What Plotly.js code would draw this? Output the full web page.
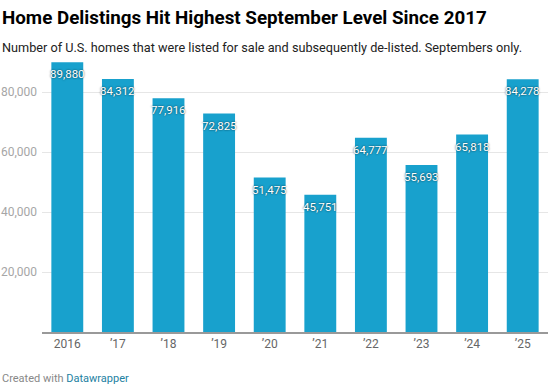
<!DOCTYPE html>
<html><head><meta charset="utf-8">
<script src="https://cdn.plot.ly/plotly-3.0.1.min.js"></script>
<style>html,body{margin:0;padding:0;background:#fff;}#chart{width:555px;height:392px;}</style>
</head><body><div id="chart"></div>
<script>
const years = ["2016","’17","’18","’19","’20","’21","’22","’23","’24","’25"];
const delistings = [89880, 84312, 77916, 72825, 51475, 45751, 64777, 55693, 65818, 84278];
const yTicks = [20000, 40000, 60000, 80000];
const yTickLabels = ["20,000", "40,000", "60,000", "80,000"];

const trace = {
  type: 'bar',
  x: years,
  y: delistings,
  marker: {color: '#18a1cd'},
  hoverinfo: 'none'
};

const valueLabels = years.map((yr, i) => ({
  text: delistings[i].toLocaleString('en-US'),
  x: i, y: delistings[i], xref: 'x', yref: 'y',
  xanchor: 'center', yanchor: 'top', yshift: -3, showarrow: false,
  font: {family: 'Roboto, sans-serif', size: 11.5, color: '#ffffff', shadow: '0 0 2px rgba(0,0,0,0.75)'}
}));

const layout = {
  width: 555, height: 392,
  margin: {l: 42, r: 7, t: 59, b: 60},
  paper_bgcolor: '#fff', plot_bgcolor: '#fff',
  bargap: 0.37,
  font: {family: 'Roboto, sans-serif'},
  showlegend: false,
  xaxis: {
    type: 'category',
    range: [-0.5, 9.5],
    showline: true, linecolor: '#999', linewidth: 2,
    showgrid: false, ticks: '',
    tickfont: {size: 12, color: '#666'},
    fixedrange: true
  },
  yaxis: {
    range: [0, 91000],
    tickvals: yTicks, ticktext: yTickLabels,
    showgrid: true, gridcolor: '#e6e6e6', gridwidth: 1,
    zeroline: false, showline: false, ticks: '',
    tickfont: {size: 12, color: '#a6a6a6'},
    ticklabelstandoff: 4,
    fixedrange: true
  },
  annotations: [
    {text: '<b>Home Delistings Hit Highest September Level Since 2017</b>', xref: 'paper', yref: 'paper',
     x: -42/506, y: 1, xanchor: 'left', yanchor: 'top', yshift: 59-5, showarrow: false,
     font: {family: 'Roboto, sans-serif', size: 18.8, color: '#000'}},
    {text: 'Number of U.S. homes that were listed for sale and subsequently de-listed. Septembers only.', xref: 'paper', yref: 'paper',
     x: -42/506, y: 1, xanchor: 'left', yanchor: 'top', yshift: 59-38, showarrow: false,
     font: {family: 'Roboto, sans-serif', size: 12.7, color: '#222'}},
    {text: '<span style="color:#888">Created with </span><span style="color:#1d81a2">Datawrapper</span>', xref: 'paper', yref: 'paper',
     x: -42/506, y: 0, xanchor: 'left', yanchor: 'top', yshift: -38, showarrow: false,
     font: {family: 'Roboto, sans-serif', size: 11, color: '#888'}}
  ].concat(valueLabels)
};

Plotly.newPlot('chart', [trace], layout, {displayModeBar: false, staticPlot: true});
</script>
</body></html>
